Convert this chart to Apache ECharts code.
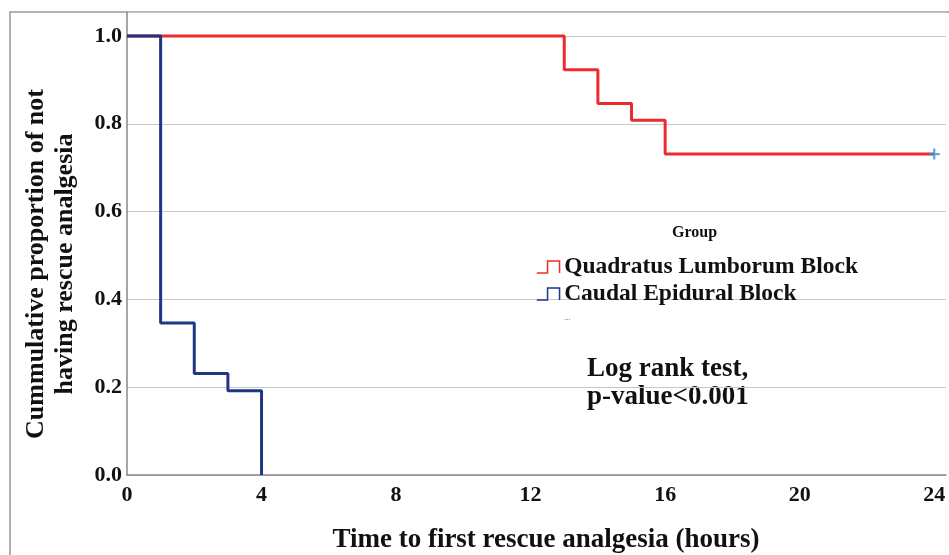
<!DOCTYPE html>
<html>
<head>
<meta charset="utf-8">
<script src="https://cdn.jsdelivr.net/npm/echarts@6/dist/echarts.min.js"></script>
<style>
html,body{margin:0;padding:0;background:#fff;}
#c{width:949px;height:555px;}
</style>
</head>
<body>
<div id="c"></div>
<script>
var xTicks = [0, 4, 8, 12, 16, 20, 24];
var yTicks = [0.0, 0.2, 0.4, 0.6, 0.8, 1.0];
var seriesNames = ['Quadratus Lumborum Block', 'Caudal Epidural Block'];
var qlbTime = [0, 13, 14, 15, 16, 24];
var qlbSurv = [1.0, 0.923, 0.846, 0.808, 0.731, 0.731];
var cebTime = [0, 1, 2, 3, 4];
var cebSurv = [1.0, 0.346, 0.231, 0.192, 0.0];
var censorTime = [24];
var censorSurv = [0.731];

var FONT = '"Liberation Serif", "Times New Roman", serif';
function pairs(a, b) { return a.map(function (v, i) { return [v, b[i]]; }); }
function isTick(list, v) { return list.some(function (t) { return Math.abs(t - v) < 1e-6; }); }

var chart = echarts.init(document.getElementById('c'));
var stepIcon = 'path://M0,10 L9,10 L9,0 L19,0 L19,10';
chart.setOption({
  animation: false,
  backgroundColor: '#fff',
  grid: { left: 127, right: 0, top: 12, bottom: 80 },
  xAxis: {
    type: 'value', min: 0, max: 24.35, interval: 4,
    axisLine: { show: true, lineStyle: { color: '#888', width: 1.5 } },
    axisTick: { show: false },
    splitLine: { show: false },
    axisLabel: {
      margin: 9, color: '#111', fontFamily: FONT, fontWeight: 'bold', fontSize: 22,
      formatter: function (v) { return isTick(xTicks, v) ? String(v) : ''; }
    }
  },
  yAxis: {
    type: 'value', min: 0, max: 1.0547, interval: 0.2,
    axisLine: { show: true, lineStyle: { color: '#888', width: 1.5 } },
    axisTick: { show: false },
    splitLine: { show: true, lineStyle: { color: '#c8c8c8', width: 1.2 } },
    axisLabel: {
      margin: 5, color: '#111', fontFamily: FONT, fontWeight: 'bold', fontSize: 22,
      formatter: function (v) { return isTick(yTicks, v) ? v.toFixed(1) : ''; }
    }
  },
  legend: {
    orient: 'vertical', left: 531, top: 250, itemGap: 3,
    itemWidth: 28, itemHeight: 12,
    data: [
      { name: seriesNames[0], icon: stepIcon, itemStyle: { color: 'transparent', borderColor: '#ee2a2f', borderWidth: 1.5 } },
      { name: seriesNames[1], icon: stepIcon, itemStyle: { color: 'transparent', borderColor: '#1f3585', borderWidth: 1.5 } }
    ],
    textStyle: { color: '#111', fontFamily: FONT, fontWeight: 'bold', fontSize: 23.5, padding: [0, 0, 0, -3] }
  },
  graphic: [
    { type: 'rect', silent: true, z: -1, shape: { x: 10, y: 12, width: 1000, height: 600 }, style: { fill: 'none', stroke: '#999', lineWidth: 1.5 } },
    { type: 'text', x: 51, y: 264, rotation: Math.PI / 2,
      style: { text: 'Cummulative proportion of not\nhaving rescue analgesia', fill: '#111', font: 'bold 26px ' + FONT, lineHeight: 29, align: 'center', verticalAlign: 'middle' } },
    { type: 'text', x: 546, y: 540,
      style: { text: 'Time to first rescue analgesia (hours)', fill: '#111', font: 'bold 27px ' + FONT, align: 'center', verticalAlign: 'middle' } },
    { type: 'text', x: 672, y: 233, style: { text: 'Group', fill: '#111', font: 'bold 16px ' + FONT, verticalAlign: 'middle' } },
    { type: 'text', x: 564, y: 318, style: { text: '...', fill: '#555', font: '9px ' + FONT, verticalAlign: 'middle' } },
    { type: 'text', x: 587, y: 383, style: { text: 'Log rank test,\np-value<0.001', fill: '#111', font: 'bold 27px ' + FONT, lineHeight: 28, verticalAlign: 'middle' } }
  ],
  series: [
    {
      name: seriesNames[0], type: 'line', step: 'end', showSymbol: false,
      data: pairs(qlbTime, qlbSurv),
      lineStyle: { color: '#ee2a2f', width: 3 }, itemStyle: { color: '#ee2a2f' }, z: 3
    },
    {
      name: seriesNames[1], type: 'line', step: 'end', showSymbol: false,
      data: pairs(cebTime, cebSurv),
      lineStyle: { color: '#1f3585', width: 3 }, itemStyle: { color: '#1f3585' }, z: 4
    },
    {
      name: 'Censored', type: 'scatter', data: pairs(censorTime, censorSurv),
      symbol: 'path://M4,0 L6,0 L6,4 L10,4 L10,6 L6,6 L6,10 L4,10 L4,6 L0,6 L0,4 L4,4 Z',
      symbolSize: 11, itemStyle: { color: '#3a8fd0' }, z: 5
    }
  ]
});
</script>
</body>
</html>
